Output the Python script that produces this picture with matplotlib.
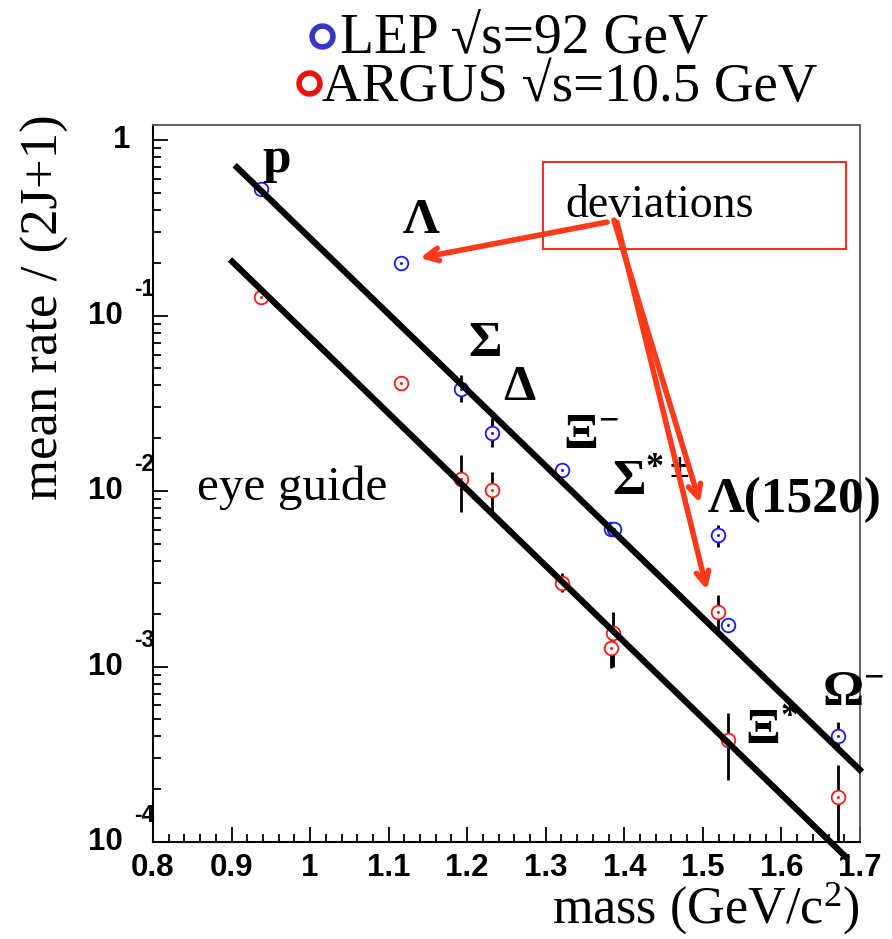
import numpy as np
import matplotlib
matplotlib.use('Agg')
import matplotlib.pyplot as plt
import matplotlib.ticker as mticker
from matplotlib.lines import Line2D
from matplotlib.patches import Rectangle
import matplotlib.transforms as mtrans

plt.rcParams['font.family'] = ['Liberation Serif', 'DejaVu Serif']
plt.rcParams['mathtext.fontset'] = 'custom'
plt.rcParams['mathtext.rm'] = 'Liberation Serif'
plt.rcParams['mathtext.bf'] = 'Liberation Serif:bold'
plt.rcParams['mathtext.it'] = 'Liberation Serif:italic'

# ── Data ───────────────────────────────────────────────────────
# LEP sqrt(s)=92 GeV
lep_mass = [0.938, 1.116, 1.192, 1.232, 1.321, 1.383, 1.387, 1.519, 1.532, 1.672]
lep_rate = [0.526, 0.199, 0.0381, 0.0214, 0.0132, 0.0061, 0.0061, 0.0056, 0.00172, 0.00040]
lep_lo   = [0.526, 0.199, 0.0321, 0.0178, 0.0132, 0.0061, 0.0061, 0.0048, 0.00172, 0.000343]
lep_hi   = [0.526, 0.199, 0.0458, 0.0261, 0.0132, 0.0061, 0.0061, 0.0064, 0.00172, 0.000483]

# ARGUS sqrt(s)=10.5 GeV
arg_mass = [0.938, 1.116, 1.192, 1.232, 1.321, 1.385, 1.383, 1.519, 1.532, 1.672]
arg_rate = [0.127, 0.0412, 0.0117, 0.0101, 0.00300, 0.00155, 0.00127, 0.00205, 0.00038, 0.000180]
arg_lo   = [0.127, 0.0412, 0.0076, 0.0076, 0.00266, 0.00100, 0.00098, 0.00155, 0.000225, 0.000100]
arg_hi   = [0.127, 0.0412, 0.0160, 0.0128, 0.00341, 0.00205, 0.00170, 0.00255, 0.000547, 0.000275]

# eye-guide lines (endpoints)
guide_hi_x = [0.904, 1.7025]
guide_hi_y = [0.720, 0.000251]
guide_lo_x = [0.898, 1.6847]
guide_lo_y = [0.209, 0.000080]

# particle labels
labels   = ['p', 'Λ', 'Σ', 'Δ', r'$\mathbf{Ξ}^{\mathbf{-}}$', r'$\mathbf{Σ}^{\mathbf{*\pm}}$',
            'Λ(1520)', r'$\mathbf{Ξ}^{\mathbf{*}}$', r'$\mathbf{Ω}^{\mathbf{-}}$']
label_x  = [0.9387, 1.1182, 1.201, 1.2455, 1.3219, 1.3847, 1.5065, 1.5536, 1.6516]
label_y  = [0.658, 0.295, 0.0587, 0.0330, 0.0176, 0.00962, 0.00758, 0.000366, 0.000604]

BLUE = '#1a1aff'
RED  = '#ff1a1a'
ARROW = '#ff3a1a'

fig = plt.figure(figsize=(8.92, 9.39), dpi=100)
ax = fig.add_axes([0.1715, 0.1033, 0.7926, 0.7636])

ax.set_yscale('log')
ax.set_xlim(0.8, 1.7)
ax.set_ylim(1e-4, 1.22)

def draw_set(m, r, lo, hi, color):
    m, r, lo, hi = map(np.array, (m, r, lo, hi))
    ax.errorbar(m, r, yerr=[r - lo, hi - r], fmt='none', ecolor='black',
                elinewidth=2, capsize=0, zorder=2)
    ax.plot(m, r, 'o', ms=9.8, mfc='white', mec=color, mew=1.3, zorder=3)
    ax.plot(m, r, 'o', ms=2.2, mfc=color, mec=color, mew=0, zorder=4)

# guide lines
ax.plot(guide_hi_x, guide_hi_y, color='black', lw=4.5, clip_on=False,
        solid_capstyle='butt', zorder=5)
ax.plot(guide_lo_x, guide_lo_y, color='black', lw=4.5, clip_on=False,
        solid_capstyle='butt', zorder=5)

draw_set(lep_mass, lep_rate, lep_lo, lep_hi, BLUE)
draw_set(arg_mass, arg_rate, arg_lo, arg_hi, RED)

for txt, lx, ly in zip(labels, label_x, label_y):
    ax.text(lx, ly, txt, fontsize=37, fontweight='bold', ha='left', va='baseline',
            zorder=6)

ax.text(0.856, 0.00889, 'eye guide', fontsize=35.5, ha='left', va='baseline')

# deviations box + arrows
ax.add_patch(Rectangle((0.5516, 0.827), 0.4286, 0.121, transform=ax.transAxes,
                       fill=False, edgecolor='#ee3322', lw=1.5, zorder=6))
ax.text(0.5827, 0.8717, 'deviations', transform=ax.transAxes, fontsize=33,
        ha='left', va='baseline', zorder=6)

arrows = [((1.378, 0.341), (1.1399, 0.213)),
          ((1.3868, 0.350), (1.4963, 0.00855)),
          ((1.3906, 0.341), (1.5052, 0.00273))]
for start, tip in arrows:
    ax.annotate('', xy=tip, xytext=start,
                arrowprops=dict(arrowstyle='->,head_length=0.9,head_width=0.45',
                                color=ARROW, lw=4, shrinkA=0, shrinkB=0),
                zorder=7)

# ── Axis styling ───────────────────────────────────────────────
for s in ['left', 'bottom']:
    ax.spines[s].set_linewidth(1.5)
    ax.spines[s].set_color('black')
for s in ['top', 'right']:
    ax.spines[s].set_linewidth(1.3)
    ax.spines[s].set_color('#555555')

ax.xaxis.set_major_locator(mticker.MultipleLocator(0.1))
ax.xaxis.set_minor_locator(mticker.MultipleLocator(0.02))
ax.xaxis.set_major_formatter(mticker.FuncFormatter(lambda v, _: f'{v:g}'))
ax.yaxis.set_major_locator(mticker.LogLocator(base=10))
ax.yaxis.set_minor_locator(mticker.LogLocator(base=10, subs=np.arange(2, 10)))
ax.yaxis.set_major_formatter(mticker.NullFormatter())
ax.yaxis.set_minor_formatter(mticker.NullFormatter())

ax.tick_params(which='both', direction='in', top=False, right=False, width=1.3)
ax.tick_params(which='major', length=11)
ax.tick_params(which='minor', length=6)
ax.tick_params(axis='x', which='major', pad=8)
for lab in ax.get_xticklabels():
    lab.set_fontfamily('Liberation Sans')
    lab.set_fontweight('bold')
    lab.set_fontsize(22.5)

# y tick labels drawn ROOT-style
tr = mtrans.blended_transform_factory(ax.transAxes, ax.transData)
for e in [-4, -3, -2, -1]:
    ax.text(-0.043, 10.0**e, '10', transform=tr, ha='right', va='center',
            fontsize=22.5, fontweight='bold', family='Liberation Sans')
    ax.text(-0.026, 10.0**(e + 0.15), f'{e}', transform=tr, ha='left', va='center',
            fontsize=16.5, fontweight='bold', family='Liberation Sans')
ax.text(-0.032, 1.0, '1', transform=tr, ha='right', va='center',
        fontsize=22.5, fontweight='bold', family='Liberation Sans')

fig.text(45 / 892, 1 - 307 / 939, 'mean rate / (2J+1)', rotation=90,
         ha='center', va='center', fontsize=38)
fig.text(860 / 892, 1 - 908 / 939, 'mass (GeV/c$^2$)', ha='right', va='center',
         fontsize=37.5)

# legend at the top
fig.add_artist(Line2D([322 / 892], [1 - 36 / 939], marker='o', ms=15, mfc='none',
                      mec='#3535cc', mew=4, transform=fig.transFigure))
fig.text(340 / 892, 1 - 53 / 939, 'LEP √s=92 GeV', fontsize=40, ha='left',
         va='baseline')
fig.add_artist(Line2D([309 / 892], [1 - 83 / 939], marker='o', ms=15, mfc='none',
                      mec='#ee1111', mew=4, transform=fig.transFigure))
fig.text(322 / 892, 1 - 101 / 939, 'ARGUS √s=10.5 GeV', fontsize=39.5, ha='left',
         va='baseline')

fig.savefig('out.png', dpi=100)
